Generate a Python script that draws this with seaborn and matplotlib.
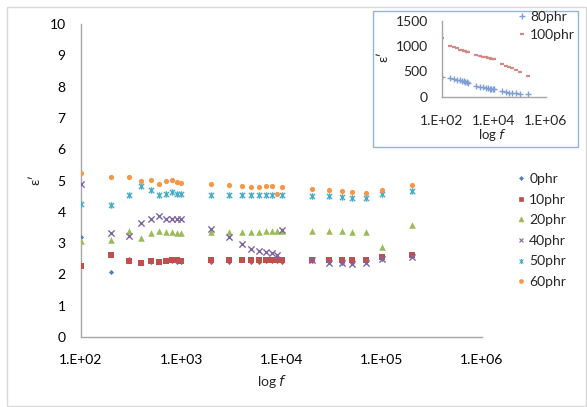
import numpy as np
import pandas as pd
import matplotlib
matplotlib.use("Agg")
import matplotlib.pyplot as plt
import seaborn as sns
from matplotlib.path import Path
from matplotlib.patches import Rectangle
from matplotlib.lines import Line2D

# ---------------- data ----------------
freq = [100, 200, 300, 400, 500, 600, 700, 800, 900, 1000,
        2000, 3000, 4000, 5000, 6000, 7000, 8000, 9000, 10000,
        20000, 30000, 40000, 50000, 70000, 100000, 200000]

phr0 = [3.18, 2.08, 2.48, 2.40, 2.40, 2.40, 2.42, 2.42, 2.40, 2.40,
        2.40, 2.40, 2.50, 2.40, 2.40, 2.42, 2.42, 2.42, 2.40,
        2.43, 2.40, 2.38, 2.38, 2.43, 2.50, 2.62]
phr10 = [2.26, 2.61, 2.43, 2.35, 2.43, 2.40, 2.43, 2.45, 2.45, 2.43,
         2.45, 2.45, 2.45, 2.45, 2.45, 2.45, 2.46, 2.46, 2.45,
         2.45, 2.45, 2.45, 2.45, 2.45, 2.56, 2.61]
phr20 = [3.06, 3.09, 3.39, 3.17, 3.32, 3.38, 3.36, 3.36, 3.32, 3.32,
         3.36, 3.36, 3.36, 3.36, 3.36, 3.38, 3.38, 3.38, 3.38,
         3.38, 3.38, 3.38, 3.36, 3.36, 2.88, 3.57]
phr40 = [4.88, 3.32, 3.23, 3.65, 3.76, 3.86, 3.78, 3.78, 3.76, 3.76,
         3.44, 3.18, 2.98, 2.82, 2.75, 2.72, 2.69, 2.61, 3.43,
         2.45, 2.37, 2.36, 2.33, 2.35, 2.48, 2.55]
phr50 = [4.26, 4.23, 4.53, 4.84, 4.69, 4.53, 4.58, 4.63, 4.58, 4.58,
         4.55, 4.55, 4.55, 4.55, 4.53, 4.55, 4.55, np.nan, 4.55,
         4.49, 4.49, 4.47, 4.44, 4.44, 4.58, 4.66]
phr60 = [5.24, 5.11, 5.11, 4.98, 5.03, 4.90, 4.98, 5.01, 4.95, 4.92,
         4.90, 4.85, 4.83, 4.80, 4.78, 4.82, 4.82, 4.56, 4.78,
         4.73, 4.71, 4.65, 4.62, 4.59, 4.71, 4.85]

series_names = ["0phr", "10phr", "20phr", "40phr", "50phr", "60phr"]
series_vals = [phr0, phr10, phr20, phr40, phr50, phr60]

# inset data
phr80 = [395, 375, 350, 335, 320, 310, 300, 290, 285, 280,
         215, 200, 185, 175, 165, 160, 155, 150, 145,
         105, 90, 80, 75, 65, 60, 50]
phr100 = [1165, 1010, 975, 965, 930, 920, 910, 900, 890, 880,
          825, 810, 790, 775, 765, 755, 745, 740, 735,
          645, 605, 580, 560, 530, 480, 410]

x_ticks = [1e2, 1e3, 1e4, 1e5, 1e6]
x_ticklabels = ["1.E+02", "1.E+03", "1.E+04", "1.E+05", "1.E+06"]
inset_xticks = [1e2, 1e4, 1e6]
inset_xticklabels = ["1.E+02", "1.E+04", "1.E+06"]

# ---------------- style ----------------
sns.set_theme(style="white")
plt.rcParams["font.family"] = ["Lato", "DejaVu Sans"]
plt.rcParams["mathtext.fontset"] = "dejavusans"

colors = {"0phr": "#4F81BD", "10phr": "#C0504D", "20phr": "#9BBB59",
          "40phr": "#8064A2", "50phr": "#4BACC6", "60phr": "#F79646"}
star = Path([(0, -1), (0, 1), (-0.8, -0.8), (0.8, 0.8), (-0.8, 0.8), (0.8, -0.8)],
            [Path.MOVETO, Path.LINETO, Path.MOVETO, Path.LINETO, Path.MOVETO, Path.LINETO])
markers = {"0phr": "D", "10phr": "s", "20phr": "^", "40phr": "x", "50phr": star, "60phr": "o"}
sizes = {"0phr": 7, "10phr": 14, "20phr": 22, "40phr": 20, "50phr": 22, "60phr": 14}

W, H = 587, 407
fig = plt.figure(figsize=(W / 100, H / 100), dpi=100)

def fx(px):
    return px / W

def fy(py):
    return 1 - py / H

# outer chart border
fig.patches.append(Rectangle((fx(7), fy(406)), fx(586) - fx(7), fy(7) - fy(406),
                             transform=fig.transFigure, fill=False,
                             edgecolor="#D9D9D9", lw=1.0))

ax = fig.add_axes([fx(81), fy(337), fx(482) - fx(81), fy(24) - fy(337)])

df = pd.DataFrame({"freq": np.tile(freq, len(series_names)),
                   "eps": np.concatenate([np.array(v, dtype=float) for v in series_vals]),
                   "series": np.repeat(series_names, len(freq))}).dropna()

handles = []
for name in series_names:
    sub = df[df["series"] == name]
    lw = 1.0 if name in ("40phr", "50phr") else 0
    sns.scatterplot(data=sub, x="freq", y="eps", ax=ax, color=colors[name],
                    marker=markers[name], s=sizes[name], linewidth=lw,
                    edgecolor=colors[name] if lw == 0 else None, legend=False, zorder=3)
    handles.append(Line2D([], [], linestyle="none", marker=markers[name],
                          color=colors[name], markersize=np.sqrt(sizes[name]) * 0.75,
                          markeredgewidth=lw * 0.8 if lw else 0.5, label=name))

ax.set_xscale("log")
ax.set_xlim(1e2, 1e6)
ax.set_ylim(0, 10)
ax.set_xticks(x_ticks)
ax.set_xticklabels(x_ticklabels)
ax.set_yticks(range(0, 11))
ax.minorticks_off()
ax.tick_params(axis="both", length=0, labelsize=10, colors="#000000")
ax.tick_params(axis="x", pad=12)
ax.tick_params(axis="y", pad=11)
for s in ["top", "right"]:
    ax.spines[s].set_visible(False)
for s in ["left", "bottom"]:
    ax.spines[s].set_color("#A6A6A6")
    ax.spines[s].set_linewidth(1.0)
ax.set_xlabel("")
ax.set_ylabel("")

fig.text(fx(272), fy(381), "log $\\mathit{f}$", ha="center", va="center", fontsize=10)
fig.text(fx(35), fy(180), "ε′", ha="center", va="center", fontsize=10, rotation=90)

fig.legend(handles=handles, loc="upper left", bbox_to_anchor=(fx(514), fy(173)),
           frameon=False, fontsize=10, handletextpad=0.1, labelspacing=0.62,
           handlelength=1.0, borderpad=0, borderaxespad=0)

# ---------------- inset ----------------
fig.patches.append(Rectangle((fx(373), fy(147)), fx(578) - fx(373), fy(10.5) - fy(147),
                             transform=fig.transFigure, fill=True, facecolor="white",
                             edgecolor="#95B3D7", lw=1.0, zorder=5))
iax = fig.add_axes([fx(441.7), fy(96.7), fx(545.7) - fx(441.7), fy(20.7) - fy(96.7)], zorder=6)
iax.patch.set_alpha(0)
idf = pd.DataFrame({"freq": freq, "80phr": phr80, "100phr": phr100})
sns.scatterplot(data=idf, x="freq", y="80phr", ax=iax, marker="+", color="#7F9FD4",
                s=24, linewidth=1.0, legend=False)
sns.scatterplot(data=idf, x="freq", y="100phr", ax=iax, marker="_", color="#D08A88",
                s=10, linewidth=1.6, legend=False)
iax.set_xscale("log")
iax.set_xlim(1e2, 1e6)
iax.set_ylim(0, 1500)
iax.set_xticks(inset_xticks)
iax.set_xticklabels(inset_xticklabels)
iax.set_yticks([0, 500, 1000, 1500])
iax.minorticks_off()
iax.tick_params(axis="both", length=0, labelsize=10)
iax.tick_params(axis="x", pad=13)
iax.tick_params(axis="y", pad=10)
for s in ["top", "right"]:
    iax.spines[s].set_visible(False)
for s in ["left", "bottom"]:
    iax.spines[s].set_color("#A6A6A6")
    iax.spines[s].set_linewidth(1.0)
iax.set_xlabel("")
iax.set_ylabel("")
fig.text(fx(493), fy(135), "log $\\mathit{f}$", ha="center", va="center", fontsize=9.5, zorder=7)
fig.text(fx(383), fy(57), "ε′", ha="center", va="center", fontsize=10, rotation=90, zorder=7)

ih = [Line2D([], [], linestyle="none", marker="+", color="#7F9FD4", markersize=5,
             markeredgewidth=1.0, label="80phr"),
      Line2D([], [], linestyle="none", marker="_", color="#D08A88", markersize=3.5,
             markeredgewidth=1.6, label="100phr")]
leg2 = fig.legend(handles=ih, loc="upper left", bbox_to_anchor=(fx(515), fy(11)),
                  frameon=False, fontsize=10, handletextpad=0.1, labelspacing=0.45,
                  handlelength=1.0, borderpad=0, borderaxespad=0)
leg2.set_zorder(8)

fig.savefig("out.png", dpi=100)
